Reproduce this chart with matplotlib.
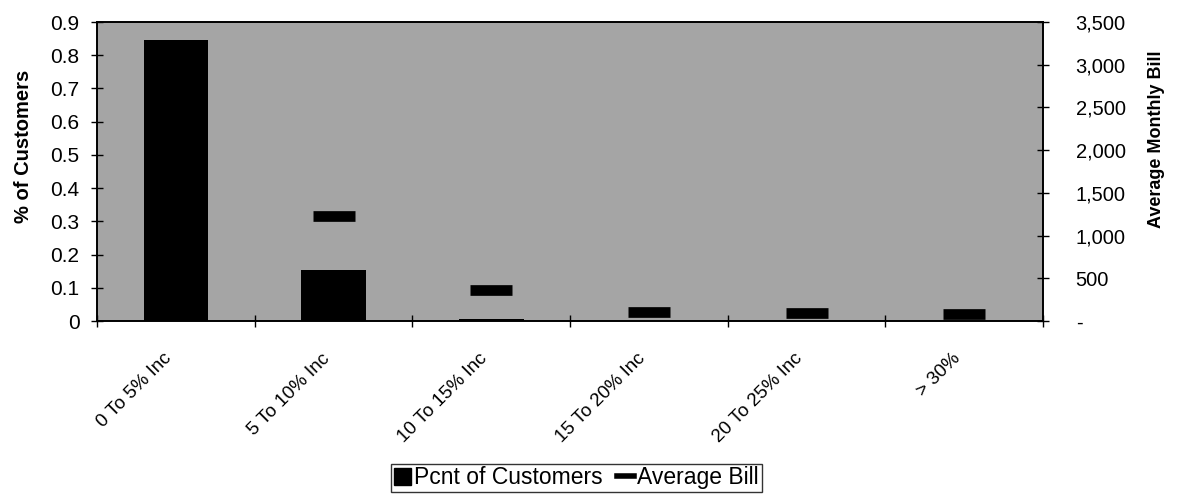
import numpy as np
import matplotlib
matplotlib.use("Agg")
import matplotlib.pyplot as plt
from matplotlib.ticker import FuncFormatter, FixedLocator
from matplotlib.transforms import ScaledTranslation
from matplotlib.patches import Patch
from matplotlib.lines import Line2D

plt.rcParams["font.family"] = ["Liberation Sans", "DejaVu Sans"]

# data
categories = ["0 To 5% Inc", "5 To 10% Inc", "10 To 15% Inc",
              "15 To 20% Inc", "20 To 25% Inc", "> 30%"]
pcnt_customers = [0.845, 0.155, 0.005, 0.0, 0.0, 0.0]
average_bill = [3000, 1230, 365, 110, 95, 85]
left_ticks = [0, 0.1, 0.2, 0.3, 0.4, 0.5, 0.6, 0.7, 0.8, 0.9]
right_ticks = [0, 500, 1000, 1500, 2000, 2500, 3000, 3500]

fig = plt.figure(figsize=(11.77, 4.98), dpi=100)
ax1 = fig.add_axes([0.0824, 0.3554, 0.8038, 0.6004])
ax2 = ax1.twinx()

x = np.arange(len(categories))

ax1.set_facecolor("#a5a5a5")
ax1.bar(x, pcnt_customers, width=0.41, color="black", zorder=2)
ax2.plot(x, average_bill, linestyle="none", marker="_", markersize=30,
         markeredgewidth=7.7, color="black", zorder=3)

ax1.set_xlim(-0.5, len(categories) - 0.5)
ax1.set_ylim(0, 0.9)
ax2.set_ylim(0, 3500)

ax1.set_yticks(left_ticks)
ax1.set_yticklabels(["0" if v == 0 else f"{v:.1f}" for v in left_ticks])
ax2.set_yticks(right_ticks)
ax2.yaxis.set_major_formatter(FuncFormatter(lambda v, p: "-" if v == 0 else f"{v:,.0f}"))

# category labels at centres, tick marks on boundaries
ax1.set_xticks(x)
ax1.set_xticklabels(categories, rotation=45, ha="right", rotation_mode="anchor")
ax1.xaxis.set_minor_locator(FixedLocator(np.arange(-0.5, len(categories), 1.0)))
ax1.tick_params(axis="x", which="major", length=0, pad=21, labelsize=13.5)
ax1.tick_params(axis="x", which="minor", direction="inout", length=9, width=1)
shift = ScaledTranslation(-9 / 72, 0, fig.dpi_scale_trans)
for lbl in ax1.get_xticklabels():
    lbl.set_transform(lbl.get_transform() + shift)

ax1.tick_params(axis="y", direction="inout", length=9, width=1, labelsize=15, pad=8)
ax2.tick_params(axis="y", direction="inout", length=9, width=1, labelsize=14.5, pad=19)
for lbl in ax2.get_yticklabels():
    lbl.set_horizontalalignment("left")

ax1.set_ylabel("% of Customers", fontsize=14.5, fontweight="bold")
ax1.yaxis.set_label_coords(-0.068, 0.585)
ax2.set_ylabel("Average Monthly Bill", fontsize=13, fontweight="bold")
ax2.yaxis.set_label_coords(1.111, 0.609)

for ax in (ax1, ax2):
    for s in ax.spines.values():
        s.set_color("black")
        s.set_linewidth(1.2)

handles = [Patch(facecolor="black", edgecolor="black"),
           Line2D([], [], color="black", linewidth=4)]
leg = fig.legend(handles, ["Pcnt of Customers", "Average Bill"], loc="lower center",
                 bbox_to_anchor=(0.4898, 0.012), ncol=2, fontsize=16.5, frameon=True,
                 fancybox=False, edgecolor="black", handlelength=0.75, handleheight=0.75,
                 handletextpad=0.15, columnspacing=0.6, borderpad=0.12, borderaxespad=0)
leg.get_frame().set_linewidth(1.0)

fig.savefig("out.png", dpi=100)
